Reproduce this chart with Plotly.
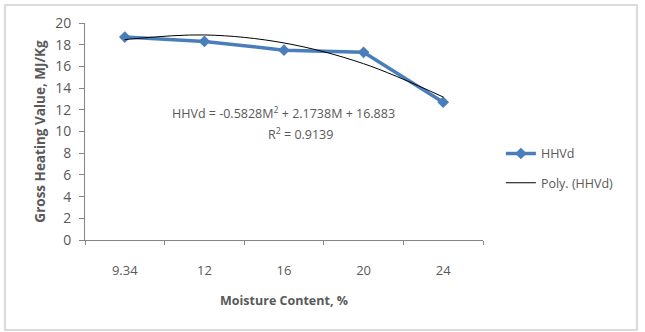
import plotly.graph_objects as go

categories = ["9.34", "12", "16", "20", "24"]
hhvd = [18.7, 18.3, 17.5, 17.3, 12.7]
poly_trend = [18.47, 18.9, 18.16, 16.25, 13.18]
y_ticks = [0, 2, 4, 6, 8, 10, 12, 14, 16, 18, 20]

FONT = "Open Sans"
GRAY = "#595959"

fig = go.Figure()
fig.add_trace(go.Scatter(
    x=categories, y=hhvd, name="HHVd", mode="lines+markers",
    legendgroup="a",
    line=dict(color="#4A7EBB", width=3.5),
    marker=dict(symbol="diamond", size=9, color="#4A7EBB"),
))
fig.add_trace(go.Scatter(
    x=categories, y=poly_trend, name="Poly. (HHVd)", mode="lines",
    legendgroup="b",
    line=dict(color="#000000", width=1, shape="spline", smoothing=1.0),
))

fig.update_layout(
    width=645, height=332,
    margin=dict(l=85, r=162, t=23, b=92, autoexpand=False),
    paper_bgcolor="white", plot_bgcolor="white",
    font=dict(family=FONT, color=GRAY, size=12),
    showlegend=True,
    legend=dict(x=1.045, y=0.33, xanchor="left", yanchor="middle",
                font=dict(family=FONT, size=12.5, color=GRAY),
                tracegroupgap=10, itemwidth=30, bgcolor="rgba(0,0,0,0)"),
    xaxis=dict(
        type="category", range=[-0.5, 4.5],
        showline=True, linecolor="#868686", linewidth=1,
        ticks="outside", tickson="boundaries", ticklen=4, tickcolor="#868686",
        showgrid=False, zeroline=False,
        tickfont=dict(family=FONT, size=13, color=GRAY),
        title=dict(text="<b>Moisture Content, %</b>", font=dict(family=FONT, size=12.5, color=GRAY), standoff=18),
        ticklabelstandoff=18,
    ),
    yaxis=dict(
        range=[0, 20], tickvals=y_ticks,
        showline=True, linecolor="#868686", linewidth=1,
        ticks="outside", ticklen=5, tickcolor="#868686",
        showgrid=False, zeroline=False,
        tickfont=dict(family=FONT, size=14, color=GRAY),
        ticklabelstandoff=5,
        title=dict(text="<b>Gross Heating Value, MJ/Kg</b>", font=dict(family=FONT, size=13.5, color=GRAY), standoff=6),
    ),
    shapes=[dict(type="rect", xref="paper", yref="paper",
                 x0=(5-85)/398, x1=(637-85)/398, y0=(240-330)/217, y1=(240-5)/217,
                 line=dict(color="#D0D0D0", width=1.5), layer="below")],
    annotations=[
        dict(xref="paper", yref="paper", x=(283-85)/398, y=(240-113)/217,
             text="HHVd = -0.5828M<sup>2</sup> + 2.1738M + 16.883", showarrow=False,
             font=dict(family=FONT, size=12.5, color=GRAY), xanchor="center", yanchor="middle"),
        dict(xref="paper", yref="paper", x=(300-85)/398, y=(240-134)/217,
             text="R<sup>2</sup> = 0.9139", showarrow=False,
             font=dict(family=FONT, size=12.5, color=GRAY), xanchor="center", yanchor="middle"),
    ],
)

fig.write_html("out.html")
